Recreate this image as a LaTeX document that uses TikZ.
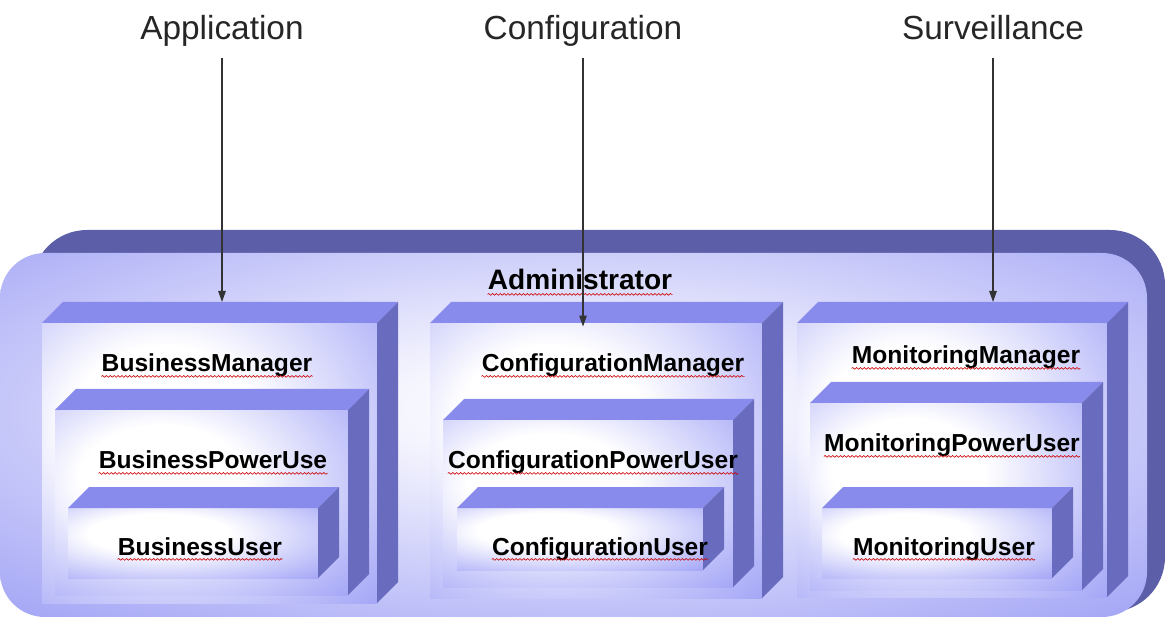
\documentclass[tikz,border=0pt]{standalone}
\usepackage{fontspec}
\setmainfont{Liberation Sans}
\usetikzlibrary{positioning,fit,calc,arrows.meta,decorations.pathmorphing}

\definecolor{banddark}{RGB}{92,95,168}
\definecolor{adminedge}{RGB}{150,152,244}
\definecolor{cubefront}{RGB}{158,160,246}
\definecolor{cubetop}{RGB}{136,138,236}
\definecolor{cubeside}{RGB}{104,107,190}

\pgfdeclareradialshading{cubeglow}{\pgfpoint{-8bp}{8bp}}{%
  color(0bp)=(white); color(14bp)=(white); color(44bp)=(cubefront); color(100bp)=(cubefront)}
\pgfdeclareradialshading{adminglow}{\pgfpoint{0bp}{4bp}}{%
  color(0bp)=(white); color(8bp)=(white!90!adminedge); color(42bp)=(adminedge); color(100bp)=(adminedge)}

\tikzset{
  group/.style={inner sep=0, font=\fontsize{19}{22}\selectfont, text=black!85},
  role/.style={inner sep=0, font=\bfseries\fontsize{14}{16}\selectfont},
  frontface/.style={inner sep=0, outer sep=0, shade, shading=cubeglow},
  topface/.style={fill=cubetop},
  sideface/.style={fill=cubeside},
  flow/.style={draw=black!80, line width=0.7pt, -{Triangle[length=2.2mm,width=1.5mm]}},
  squiggle/.style={draw=red!80!black, line width=0.35pt,
    decorate, decoration={snake, segment length=2.2pt, amplitude=0.5pt}}
}

\newcommand{\roleblock}[5]{%
  \node[frontface, fit={(#2,#3) (#4,#5)}] (#1) {};
  \fill[topface] (#1.north west) -- ++(21,-21) -- ([shift={(21,-21)}]#1.north east) -- (#1.north east) -- cycle;
  \fill[sideface] (#1.north east) -- ++(21,-21) -- ([shift={(21,-21)}]#1.south east) -- (#1.south east) -- cycle;
  \coordinate (#1-back) at ([shift={(21,-21)}]#1.north);
}

\begin{document}
\begin{tikzpicture}[x={(0.02cm,0)}, y={(0,-0.02cm)}]
  \useasboundingbox (0,0) rectangle (1165,617);

  \node[fill=banddark, inner sep=0, rounded corners=1.1cm, fit={(32,230) (1165,612)}] (adminback) {};
  \node[inner sep=0, rounded corners=0.9cm, shade, shading=adminglow,
        fit={(0,253) (1147,617)}] (adminbox) {};
  \node[role, font=\bfseries\fontsize{16}{18}\selectfont, anchor=base] (admin) at (580,290) {Administrator};

  \node[group, anchor=base] (app) at (222,40) {Application};
  \node[group, anchor=base] (conf) at (583,40) {Configuration};
  \node[group, anchor=base] (surv) at (993,40) {Surveillance};

  \roleblock{bm}{42}{323}{377}{603}
  \node[role, anchor=base] (bmlab) at (207,372) {BusinessManager};
  \roleblock{bp}{55}{410}{348}{595}
  \node[role, anchor=base] (bplab) at (213,469) {BusinessPowerUse};
  \roleblock{bu}{68}{508}{318}{578}
  \node[role, anchor=base] (bulab) at (200,555) {BusinessUser};

  \roleblock{cm}{430}{323}{762}{598}
  \node[role, anchor=base] (cmlab) at (613,372) {ConfigurationManager};
  \roleblock{cp}{443}{420}{733}{587}
  \node[role, anchor=base] (cplab) at (593,469) {ConfigurationPowerUser};
  \roleblock{cu}{457}{508}{703}{570}
  \node[role, anchor=base] (culab) at (600,555) {ConfigurationUser};

  \roleblock{mm}{797}{323}{1107}{597}
  \node[role, anchor=base] (mmlab) at (966,364) {MonitoringManager};
  \roleblock{mp}{810}{403}{1082}{590}
  \node[role, anchor=base] (mplab) at (952,452) {MonitoringPowerUser};
  \roleblock{mu}{822}{508}{1052}{578}
  \node[role, anchor=base] (mulab) at (944,555) {MonitoringUser};

  \foreach \lab in {admin,bmlab,bplab,bulab,cmlab,cplab,culab,mmlab,mplab,mulab}
    \draw[squiggle] ([yshift=-2.5pt]\lab.base west) -- ([yshift=-2.5pt]\lab.base east);

  \draw[flow] ([yshift=-10pt]app.base) -- (app.base |- bm-back);
  \draw[flow] ([yshift=-10pt]conf.base) -- ([yshift=-2pt]conf.base |- cm.north);
  \draw[flow] ([yshift=-10pt]surv.base) -- (surv.base |- mm-back);
\end{tikzpicture}
\end{document}
